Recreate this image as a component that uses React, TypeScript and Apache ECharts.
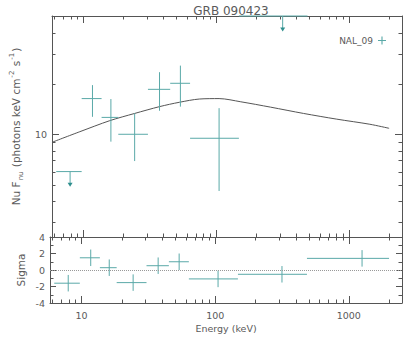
import React, { useEffect, useRef } from "react";
import * as echarts from "echarts";

// ---- data ----
const TITLE = "GRB 090423";
const DETECTOR = "NAL_09";
const X_NAME = "Energy (keV)";
const RESID_NAME = "Sigma";

// energy bins (keV)
const binCenter = [7.94, 11.7, 16.1, 24.3, 37.4, 53.7, 105, 316, 1256];
const binLow = [6.24, 9.7, 13.7, 18.3, 30.6, 45, 63.5, 148, 486];
const binHigh = [9.7, 13.7, 18.3, 30.6, 45, 63.5, 148, 486, 2000];

// Nu F_nu values; null = not drawn in the upper panel
const fluxValue = [6.0, 16.3, 12.6, 10.0, 18.5, 20.1, 9.47, 50.5, null];
const fluxLow = [4.88, 12.7, 9.04, 6.93, 13.8, 14.6, 4.6, 40.8, null];
const fluxHigh = [null, 19.6, 16.2, 13.3, 23.4, 25.6, 14.3, null, null];
const isUpperLimit = [true, false, false, false, false, false, false, true, false];

// residuals (sigma)
const sigmaValue = [-1.6, 1.48, 0.28, -1.53, 0.52, 1.0, -1.08, -0.52, 1.41];
const sigmaError = [1, 1, 1, 1, 1, 1, 1, 1, 1];

// model curve
const modelEnergy = [5.8, 9.4, 15.8, 24.3, 37.4, 52.8, 74.5, 105, 153, 256, 454, 807, 1432, 2000];
const modelFlux = [8.96, 10.36, 12.05, 13.3, 14.6, 15.5, 16.2, 16.3, 15.6, 14.5, 13.3, 12.3, 11.47, 10.85];

// axes
const energyMin = 5.8;
const energyMax = 2500;
const fluxMin = 2.45;
const fluxMax = 50.5;
const sigmaMin = -4;
const sigmaMax = 4;
const sigmaInterval = 2;
const energyMinorTicks = [6, 7, 8, 9, 20, 30, 40, 50, 60, 70, 80, 90, 200, 300, 400, 500, 600, 700, 800, 900, 2000];
const fluxMinorTicks = [3, 4, 5, 6, 7, 8, 9, 20, 30, 40];

const TEAL = "#5aa9a8";
const AXIS = "#555555";
const TEXT = "#5a5a5a";
const FONT = "DejaVu Sans";

function minorTickRender(params: any, api: any) {
  const cs = params.coordSys;
  const kind = api.value(2);
  const p = api.coord([api.value(0), api.value(1)]);
  const len = 3.5;
  const style = { stroke: AXIS, lineWidth: 1 };
  if (kind === 0) {
    const x = Math.round(p[0]) + 0.5;
    return {
      type: "group",
      children: [
        { type: "line", shape: { x1: x, y1: cs.y, x2: x, y2: cs.y + len }, style },
        { type: "line", shape: { x1: x, y1: cs.y + cs.height - len, x2: x, y2: cs.y + cs.height }, style },
      ],
    };
  }
  const y = Math.round(p[1]) + 0.5;
  return {
    type: "group",
    children: [
      { type: "line", shape: { x1: cs.x, y1: y, x2: cs.x + len, y2: y }, style },
      { type: "line", shape: { x1: cs.x + cs.width - len, y1: y, x2: cs.x + cs.width, y2: y }, style },
    ],
  };
}

function crossRender(params: any, api: any) {
  const e = api.value(0);
  const f = api.value(1);
  const lo = api.value(2);
  const hi = api.value(3);
  const flo = api.value(4);
  const fhi = api.value(5);
  const pl = api.coord([lo, f]);
  const pr = api.coord([hi, f]);
  const pt = api.coord([e, fhi]);
  const pb = api.coord([e, flo]);
  const style = { stroke: TEAL, lineWidth: 1 };
  return {
    type: "group",
    children: [
      { type: "line", shape: { x1: pl[0], y1: pl[1], x2: pr[0], y2: pr[1] }, style },
      { type: "line", shape: { x1: pt[0], y1: pt[1], x2: pb[0], y2: pb[1] }, style },
    ],
  };
}

function limitRender(params: any, api: any) {
  const e = api.value(0);
  const f = api.value(1);
  const lo = api.value(2);
  const hi = api.value(3);
  const tip = api.value(4);
  const pl = api.coord([lo, f]);
  const pr = api.coord([hi, f]);
  const pc = api.coord([e, f]);
  const pt = api.coord([e, tip]);
  const style = { stroke: TEAL, lineWidth: 1 };
  return {
    type: "group",
    children: [
      { type: "line", shape: { x1: pl[0], y1: pl[1], x2: pr[0], y2: pr[1] }, style },
      { type: "line", shape: { x1: pc[0], y1: pc[1], x2: pt[0], y2: pt[1] - 3 }, style },
      {
        type: "polygon",
        shape: { points: [[pt[0] - 2.5, pt[1] - 4], [pt[0] + 2.5, pt[1] - 4], [pt[0], pt[1]]] },
        style: { fill: "#2f8f8e" },
      },
    ],
  };
}

export default function App() {
  const ref = useRef<HTMLDivElement>(null);

  useEffect(() => {
    if (!ref.current) return;
    const chart = echarts.init(ref.current, null, { renderer: "svg" });

    const crossData: number[][] = [];
    const limitData: number[][] = [];
    binCenter.forEach((e, i) => {
      const f = fluxValue[i];
      if (f == null) return;
      if (isUpperLimit[i]) {
        limitData.push([e, f, binLow[i], binHigh[i], fluxLow[i] as number]);
      } else {
        crossData.push([e, f, binLow[i], binHigh[i], fluxLow[i] as number, fluxHigh[i] as number]);
      }
    });
    const residData = binCenter.map((e, i) => [
      e,
      sigmaValue[i],
      binLow[i],
      binHigh[i],
      sigmaValue[i] - sigmaError[i],
      sigmaValue[i] + sigmaError[i],
    ]);
    const modelData = modelEnergy.map((e, i) => [e, modelFlux[i]]);
    const minorTop = [
      ...energyMinorTicks.map((e) => [e, 10, 0]),
      ...fluxMinorTicks.map((f) => [100, f, 1]),
    ];
    const minorBottom = energyMinorTicks.map((e) => [e, 0, 0]);

    const labelStyle = { color: TEXT, fontFamily: FONT, fontSize: 9.5, fontWeight: "normal" };
    const axisLine = { show: true, onZero: false, lineStyle: { color: AXIS, width: 1 } };
    const majorTick = { show: true, inside: true, length: 7, lineStyle: { color: AXIS } };
    const energyAxisBase = {
      type: "log",
      logBase: 10,
      min: energyMin,
      max: energyMax,
      axisLine,
      axisTick: majorTick,
      splitLine: { show: false },
    };

    const option: any = {
      animation: false,
      backgroundColor: "#ffffff",
      title: {
        text: TITLE,
        left: 226,
        textAlign: "center",
        top: 0,
        textStyle: { color: TEXT, fontFamily: FONT, fontSize: 12, fontWeight: "normal" },
      },
      legend: {
        data: [{ name: DETECTOR, icon: "path://M0,4.3H10V5.7H0Z M4.3,0H5.7V10H4.3Z" }],
        right: 24,
        top: 31,
        align: "right",
        itemWidth: 8,
        itemHeight: 8,
        itemGap: 4,
        textStyle: { color: TEXT, fontFamily: FONT, fontSize: 9 },
        selectedMode: false,
      },
      graphic: [
        {
          type: "text",
          x: 226,
          y: 328.5,
          silent: true,
          style: {
            text: X_NAME,
            fill: TEXT,
            font: `normal 9.5px "${FONT}"`,
            align: "center",
            verticalAlign: "middle",
          },
        },
        {
          type: "text",
          x: 21,
          y: 270,
          rotation: Math.PI / 2,
          silent: true,
          style: {
            text: RESID_NAME,
            fill: TEXT,
            font: `normal 10.5px "${FONT}"`,
            align: "center",
            verticalAlign: "middle",
          },
        },
      ],
      grid: [
        { left: 50, top: 16, width: 352, height: 221 },
        { left: 50, top: 237, width: 352, height: 66 },
      ],
      xAxis: [
        { ...energyAxisBase, gridIndex: 0, position: "bottom", axisLabel: { show: false } },
        { ...energyAxisBase, gridIndex: 0, position: "top", axisLabel: { show: false } },
        {
          ...energyAxisBase,
          gridIndex: 1,
          position: "bottom",
          axisLabel: {
            ...labelStyle,
            margin: 7,
            showMinLabel: false,
            showMaxLabel: false,
            formatter: (v: number) => String(Math.round(v)),
          },
        },
        { ...energyAxisBase, gridIndex: 1, position: "top", axisLabel: { show: false } },
      ],
      yAxis: [
        {
          type: "log",
          logBase: 10,
          gridIndex: 0,
          position: "left",
          min: fluxMin,
          max: fluxMax,
          axisLine,
          axisTick: majorTick,
          splitLine: { show: false },
          axisLabel: {
            ...labelStyle,
            margin: 5,
            showMinLabel: false,
            showMaxLabel: false,
            formatter: (v: number) => String(Math.round(v)),
          },
          name: "{n|Nu F}{s|nu}{n| (photons keV cm}{p|-2}{n| s}{p|-1}{n|)}",
          nameLocation: "middle",
          nameGap: 20,
          nameRotate: 90,
          nameTextStyle: {
            color: TEXT,
            fontFamily: FONT,
            fontWeight: "normal",
            rich: {
              n: { color: TEXT, fontFamily: FONT, fontWeight: "normal", fontSize: 10.5, lineHeight: 16, verticalAlign: "middle" },
              s: { color: TEXT, fontFamily: FONT, fontWeight: "normal", fontSize: 7, lineHeight: 16, verticalAlign: "bottom", padding: [0, 1, 0, 1] },
              p: { color: TEXT, fontFamily: FONT, fontWeight: "normal", fontSize: 7, lineHeight: 16, verticalAlign: "top", padding: [0, 1, 0, 1] },
            },
          },
        },
        {
          type: "log",
          logBase: 10,
          gridIndex: 0,
          position: "right",
          min: fluxMin,
          max: fluxMax,
          axisLine,
          axisTick: majorTick,
          splitLine: { show: false },
          axisLabel: { show: false },
        },
        {
          type: "value",
          gridIndex: 1,
          position: "left",
          min: sigmaMin,
          max: sigmaMax,
          interval: sigmaInterval,
          axisLine,
          axisTick: { ...majorTick, length: 6 },
          minorTick: { show: true, splitNumber: 2, length: 3.5, lineStyle: { color: AXIS } },
          splitLine: { show: false },
          axisLabel: { ...labelStyle, margin: 5 },
        },
        {
          type: "value",
          gridIndex: 1,
          position: "right",
          min: sigmaMin,
          max: sigmaMax,
          interval: sigmaInterval,
          axisLine,
          axisTick: { ...majorTick, length: 6 },
          minorTick: { show: true, splitNumber: 2, length: 3.5, lineStyle: { color: AXIS } },
          splitLine: { show: false },
          axisLabel: { show: false },
        },
      ],
      series: [
        {
          name: "model",
          type: "line",
          xAxisIndex: 0,
          yAxisIndex: 0,
          data: modelData,
          showSymbol: false,
          smooth: 0.3,
          lineStyle: { color: "#555555", width: 1 },
          itemStyle: { color: "#555555" },
          silent: true,
          z: 3,
        },
        {
          name: DETECTOR,
          type: "custom",
          xAxisIndex: 0,
          yAxisIndex: 0,
          data: crossData,
          encode: { x: 0, y: 1 },
          renderItem: crossRender,
          itemStyle: { color: TEAL },
          silent: true,
          z: 4,
        },
        {
          name: "limits",
          type: "custom",
          xAxisIndex: 0,
          yAxisIndex: 0,
          data: limitData,
          encode: { x: 0, y: 1 },
          renderItem: limitRender,
          itemStyle: { color: TEAL },
          silent: true,
          z: 5,
        },
        {
          name: "residuals",
          type: "custom",
          xAxisIndex: 2,
          yAxisIndex: 2,
          data: residData,
          encode: { x: 0, y: 1 },
          renderItem: crossRender,
          itemStyle: { color: TEAL },
          silent: true,
          z: 4,
          markLine: {
            silent: true,
            symbol: "none",
            label: { show: false },
            lineStyle: { type: "dotted", color: "#999999", width: 1 },
            data: [{ yAxis: 0 }],
          },
        },
        {
          name: "minorTop",
          type: "custom",
          xAxisIndex: 0,
          yAxisIndex: 0,
          data: minorTop,
          encode: { x: 0, y: 1 },
          renderItem: minorTickRender,
          silent: true,
          z: 2,
        },
        {
          name: "minorBottom",
          type: "custom",
          xAxisIndex: 2,
          yAxisIndex: 2,
          data: minorBottom,
          encode: { x: 0, y: 1 },
          renderItem: minorTickRender,
          silent: true,
          z: 2,
        },
      ],
    };

    chart.setOption(option);
    return () => chart.dispose();
  }, []);

  return (
    <div
      ref={ref}
      style={{ position: "absolute", left: 0, top: 0, width: 415, height: 338, background: "#fff" }}
    />
  );
}
